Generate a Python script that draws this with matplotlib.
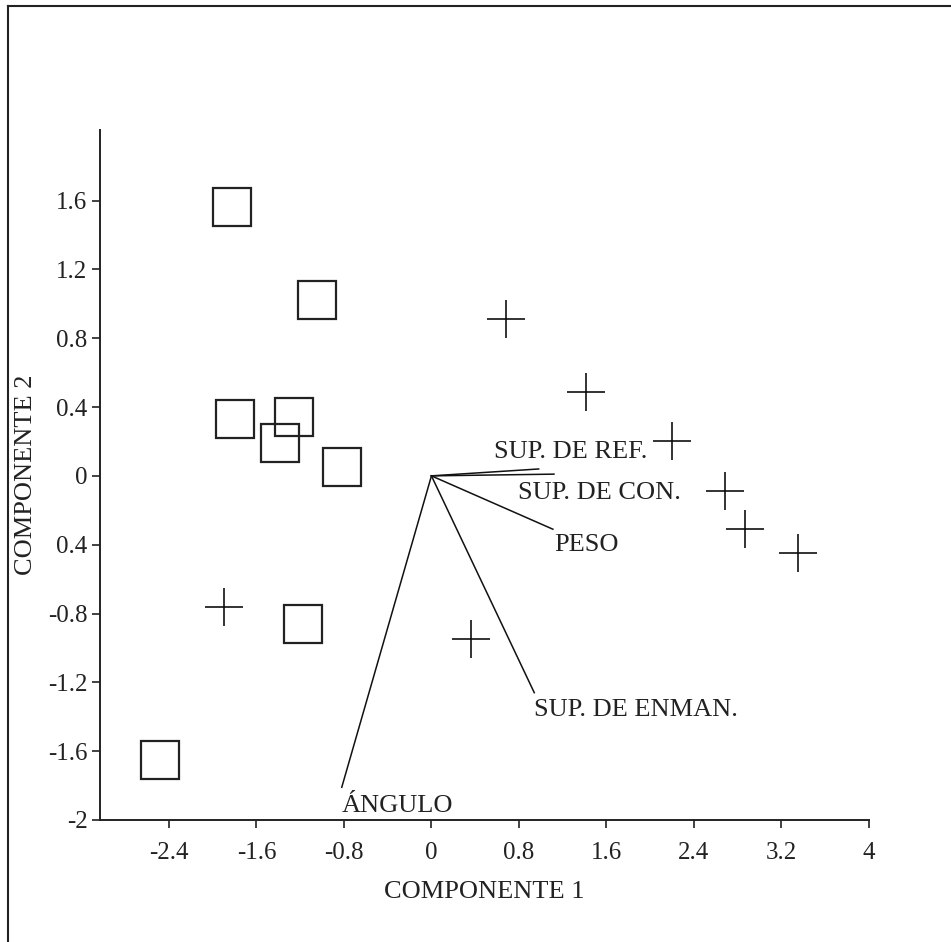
import matplotlib

matplotlib.use("Agg")
import matplotlib.pyplot as plt
from matplotlib.lines import Line2D

plt.rcParams["font.family"] = ["Liberation Serif", "DejaVu Serif"]

# group 1 (squares)
sq_x = [-1.82, -1.05, -1.80, -1.26, -1.38, -0.82, -1.17, -2.48]
sq_y = [1.56, 1.02, 0.33, 0.34, 0.19, 0.05, -0.86, -1.65]

# group 2 (crosses)
pl_x = [0.68, 1.41, 2.20, 2.68, 2.87, 3.35, -1.90, 0.36]
pl_y = [0.91, 0.49, 0.20, -0.09, -0.31, -0.45, -0.76, -0.95]

# loading vectors
var_names = ["SUP. DE REF.", "SUP. DE CON.", "PESO", "SUP. DE ENMAN.", "ÁNGULO"]
vec_x = [0.98, 1.12, 1.11, 0.94, -0.82]
vec_y = [0.04, 0.01, -0.31, -1.26, -1.81]
lab_x = [0.57, 0.79, 1.12, 0.94, -0.82]
lab_y = [0.14, -0.10, -0.40, -1.36, -1.92]

xticks = [-2.4, -1.6, -0.8, 0, 0.8, 1.6, 2.4, 3.2, 4]
xtick_labels = ["-2.4", "-1.6", "-0.8", "0", "0.8", "1.6", "2.4", "3.2", "4"]
yticks = [-2, -1.6, -1.2, -0.8, -0.4, 0, 0.4, 0.8, 1.2, 1.6]
ytick_labels = ["-2", "-1.6", "-1.2", "-0.8", "0.4", "0", "0.4", "0.8", "1.2", "1.6"]

W, H = 951, 942
fig = plt.figure(figsize=(W / 100, H / 100), dpi=100)
ax = fig.add_axes([100 / W, 122 / H, 769 / W, 690 / H])

ax.plot(sq_x, sq_y, linestyle="none", marker="s", markersize=27,
        markerfacecolor="none", markeredgecolor="#222222", markeredgewidth=1.6)
ax.plot(pl_x, pl_y, linestyle="none", marker="+", markersize=27,
        color="#111111", markeredgewidth=1.2)

for name, vx, vy, lx, ly in zip(var_names, vec_x, vec_y, lab_x, lab_y):
    ax.plot([0, vx], [0, vy], color="#111111", linewidth=1.1)
    ax.text(lx, ly, name, fontsize=19, ha="left", va="center", color="#222222")

ax.set_xlim(-3.03, 4)
ax.set_ylim(-2, 2.01)
ax.set_xticks(xticks)
ax.set_xticklabels(xtick_labels)
ax.set_yticks(yticks)
ax.set_yticklabels(ytick_labels)
ax.tick_params(direction="out", length=6, width=1.2, labelsize=18, colors="#222222")
ax.tick_params(axis="x", pad=10)
ax.tick_params(axis="y", pad=3)
for side in ("top", "right"):
    ax.spines[side].set_visible(False)
for side in ("left", "bottom"):
    ax.spines[side].set_linewidth(1.4)
    ax.spines[side].set_color("#222222")

ax.set_xlabel("COMPONENTE 1", fontsize=19, color="#222222", labelpad=12)
ax.set_ylabel("COMPONENTE 2", fontsize=19, color="#222222", labelpad=8)

# outer frame of the original picture (top and left edges)
fig.add_artist(Line2D([8 / W, 8 / W], [0, 1 - 6 / H], transform=fig.transFigure,
                      color="#222222", linewidth=1.5))
fig.add_artist(Line2D([8 / W, 1], [1 - 6 / H, 1 - 6 / H], transform=fig.transFigure,
                      color="#222222", linewidth=1.5))

fig.savefig("out.png", dpi=100)
